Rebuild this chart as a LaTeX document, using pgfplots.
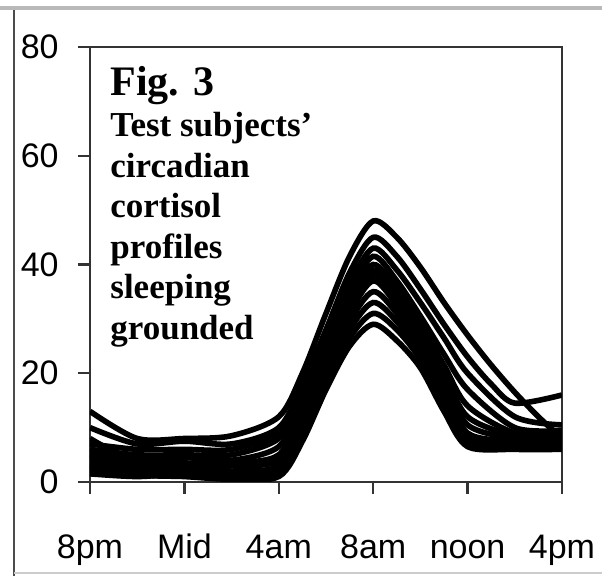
\documentclass[border=0pt]{standalone}
\usepackage{fontspec}
\setmainfont{Liberation Serif}
\newfontfamily\arial{Liberation Sans}
\usepackage{pgfplots}
\pgfplotsset{compat=1.18}
\tikzset{cort/.style={draw=black, solid, line width=2.8pt, smooth, mark=none}}
\begin{document}
\begin{tikzpicture}
\path[use as bounding box] (0,0) rectangle (301pt,288pt);
\fill[white] (0,0) rectangle (301pt,288pt);
\draw[gray!55, line width=2.2pt] (0,284pt) -- (301pt,284pt);
\draw[black!70, line width=1pt] (7pt,283pt) -- (7pt,0pt);
\draw[gray!40, line width=0.8pt] (7pt,1.5pt) -- (301pt,1.5pt);
\begin{axis}[
  at={(45pt,47pt)}, anchor=south west,
  scale only axis, width=236pt, height=217.5pt,
  xmin=0, xmax=20, ymin=0, ymax=80,
  xtick={0,4,...,20}, xticklabels={8pm,Mid,4am,8am,noon,4pm},
  ytick={0,20,...,80},
  xtick pos=bottom, ytick pos=left,
  xtick align=outside, ytick align=outside,
  major tick length=6pt,
  axis line style={black!80, line width=1.4pt},
  xtick style={black!80, line width=1.2pt},
  ytick style={black!80, line width=1.2pt},
  tick label style={font=\arial\fontsize{17}{19}\selectfont},
  /pgf/number format/assume math mode=true,
  xticklabel style={anchor=base, yshift=-32.5pt},
  yticklabel style={anchor=east, inner sep=0pt, xshift=-9.5pt},
]
\addplot[cort] coordinates {(0,5)(2,1.5)(4,1)(6,0.5)(8,1)(9,7.5)(10,17)(11,25)(12,29)(13,26)(14,21)(15,13)(16,6.5)(18,6)(20,6)};
\addplot[cort] coordinates {(0,8)(2,3.5)(4,2.5)(6,2)(8,1.5)(9,8.5)(10,18)(11,26.5)(12,31)(13,28)(14,22.5)(15,14)(16,7)(18,6.5)(20,6.5)};
\addplot[cort] coordinates {(0,1.5)(2,1)(4,1.5)(6,1)(8,2)(9,9.5)(10,19)(11,28)(12,33)(13,29.5)(14,23.5)(15,15)(16,7.5)(18,7)(20,6.5)};
\addplot[cort] coordinates {(0,2)(2,2)(4,1.5)(6,1.5)(8,2.5)(9,10.5)(10,20)(11,29.5)(12,35)(13,31)(14,24.5)(15,16)(16,8)(18,7)(20,7)};
\addplot[cort] coordinates {(0,2.5)(2,2.5)(4,2)(6,2)(8,3)(9,11.5)(10,21)(11,31)(12,37)(13,32.5)(14,26)(15,17.5)(16,9)(18,7.5)(20,7)};
\addplot[cort] coordinates {(0,3)(2,3)(4,3)(6,3)(8,4)(9,12.5)(10,22)(11,32)(12,38)(13,33.5)(14,27)(15,19)(16,10.5)(18,8)(20,7.5)};
\addplot[cort] coordinates {(0,4)(2,4)(4,3.5)(6,3.5)(8,5)(9,13.5)(10,23)(11,33)(12,39)(13,34.5)(14,28)(15,20)(16,12)(18,8.5)(20,8)};
\addplot[cort] coordinates {(0,5)(2,4.5)(4,4.5)(6,4)(8,6.5)(9,14.5)(10,24)(11,34)(12,40)(13,35.5)(14,29)(15,21.5)(16,14)(18,9)(20,8.5)};
\addplot[cort] coordinates {(0,6)(2,5)(4,5)(6,5)(8,8)(9,15.5)(10,25)(11,35)(12,41.5)(13,37)(14,30.5)(15,23.5)(16,17)(18,10)(20,9.5)};
\addplot[cort] coordinates {(0,7)(2,6)(4,6)(6,6)(8,9)(9,16.5)(10,26)(11,36.5)(12,43)(13,39)(14,33)(15,26.5)(16,20)(18,12)(20,10.5)};
\addplot[cort] coordinates {(0,10)(2,7)(4,7.5)(6,7)(8,10)(9,18)(10,28)(11,38.5)(12,45)(13,41.5)(14,35.5)(15,29)(16,23)(17,18)(18,14.5)(20,16)};
\addplot[cort] coordinates {(0,13)(2,8)(4,8)(6,8.5)(8,12)(9,20)(10,31)(11,41.5)(12,48)(13,45)(14,39.5)(15,33)(16,27)(17,21.5)(18,16.5)(19,12)(20,8)};
\end{axis}
\node[anchor=base west, font=\bfseries\fontsize{21}{23}\selectfont, inner sep=0pt] at (55pt,240pt) {Fig. 3};
\begin{scope}[every node/.style={anchor=base west, font=\bfseries\fontsize{17.5}{19}\selectfont, inner sep=0pt}]
\node at (55pt,219.5pt) {Test subjects’};
\node at (55pt,199pt) {circadian};
\node at (55pt,179pt) {cortisol};
\node at (55pt,158.75pt) {profiles};
\node at (55pt,138.5pt) {sleeping};
\node at (55pt,118.25pt) {grounded};
\end{scope}
\end{tikzpicture}
\end{document}
